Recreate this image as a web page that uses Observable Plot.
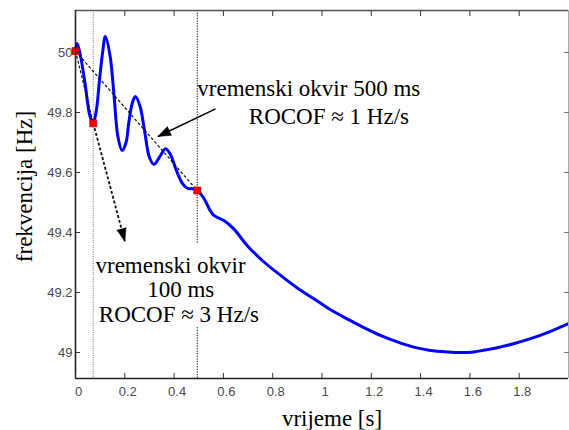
<!DOCTYPE html>
<html><head><meta charset="utf-8">
<script src="https://cdn.jsdelivr.net/npm/d3@7"></script>
<script src="https://cdn.jsdelivr.net/npm/@observablehq/plot@0.6"></script>
<style>body{margin:0;background:#fff} svg{display:block}</style>
</head><body><div id="chart"></div>
<script>
// ---- data ----
const time = [0, 0.007, 0.02, 0.04, 0.058, 0.072, 0.085, 0.0975, 0.11, 0.121, 0.14, 0.156, 0.172, 0.189,
  0.205, 0.216, 0.23, 0.243, 0.262, 0.28, 0.3, 0.318, 0.34, 0.365, 0.385, 0.41, 0.435, 0.455, 0.475, 0.494,
  0.52, 0.545, 0.561, 0.602, 0.642, 0.696, 0.76, 0.832, 0.9, 0.967, 1.03, 1.102, 1.17, 1.237, 1.3, 1.372,
  1.44, 1.508, 1.56, 1.616, 1.66, 1.711, 1.78, 1.846, 1.92, 2.0];
const freq = [50.005, 50.03, 49.99, 49.89, 49.79, 49.765, 49.81, 49.91, 50.0, 50.053, 49.99, 49.86, 49.72, 49.673,
  49.7, 49.765, 49.83, 49.853, 49.82, 49.74, 49.65, 49.627, 49.65, 49.679, 49.66, 49.605, 49.562, 49.547, 49.546, 49.54,
  49.515, 49.475, 49.457, 49.44, 49.412, 49.357, 49.305, 49.257, 49.215, 49.179, 49.145, 49.112, 49.083, 49.057, 49.037, 49.018,
  49.007, 49.002, 49.0, 49.002, 49.008, 49.016, 49.03, 49.046, 49.068, 49.096];

const markerT = [0, 0.072, 0.494];
const markerF = [50.005, 49.764, 49.54];

const xTicks = [0, 0.2, 0.4, 0.6, 0.8, 1, 1.2, 1.4, 1.6, 1.8];
const yTicks = [49, 49.2, 49.4, 49.6, 49.8, 50];
const xDomain = [0, 2];
const yDomain = [48.9133, 50.14];

// window lines: short window full height, long window broken behind the lower text
const shortWindowT = [0.072];
const longWindowT = [0.494, 0.494];
const longWindowY1 = [50.14, 49.083];
const longWindowY2 = [49.363, 48.9133];

// dashed secant lines
const secantX1 = [0, 0];
const secantY1 = [50.005, 50.005];
const secantX2 = [0.072, 0.494];
const secantY2 = [49.764, 49.54];

// arrows: [start t, start f, tip t, tip f]
const arrowSolid = [0.568, 49.812, 0.334, 49.72];
const arrowDashed = [0.072, 49.764, 0.2, 49.371];

// annotation text
const labelText = ["vremenski okvir 500 ms", "ROCOF \u2248 1 Hz/s", "vremenski okvir", "100 ms", "ROCOF \u2248 3 Hz/s"];
const labelT = [0.494, 0.703, 0.081, 0.291, 0.0945];
const labelF = [49.881, 49.787, 49.289, 49.211, 49.126];

const xLabel = "vrijeme [s]";
const yLabel = "frekvencija [Hz]";

// ---- layout ----
const W = 569, H = 430, mL = 75, mR = 1, mT = 10, mB = 52;
const sx = d3.scaleLinear(xDomain, [mL, W - mR]);
const sy = d3.scaleLinear(yDomain, [H - mB, mT]);
function angle(a) {
  const dx = sx(a[2]) - sx(a[0]), dy = sy(a[3]) - sy(a[1]);
  return Math.atan2(dx, -dy) * 180 / Math.PI;
}

const series = time.map((t, i) => ({t, f: freq[i]}));
const markers = markerT.map((t, i) => ({t, f: markerF[i]}));
const secants = secantX1.map((x1, i) => ({x1, y1: secantY1[i], x2: secantX2[i], y2: secantY2[i]}));
const longWin = longWindowT.map((t, i) => ({t, y1: longWindowY1[i], y2: longWindowY2[i]}));
const labels = labelText.map((s, i) => ({s, t: labelT[i], f: labelF[i]}));
const arrows = [arrowSolid, arrowDashed].map(a => ({x1: a[0], y1: a[1], x2: a[2], y2: a[3], rot: angle(a)}));

const serif = "Liberation Serif, Times New Roman, serif";
const sans = "Liberation Sans, Arial, sans-serif";

const plot = Plot.plot({
  width: W, height: H,
  marginLeft: mL, marginRight: mR, marginTop: mT, marginBottom: mB,
  style: {fontFamily: sans, fontSize: "13px", background: "#fff"},
  x: {domain: xDomain, label: null},
  y: {domain: yDomain, label: null},
  marks: [
    // window lines
    Plot.ruleX(shortWindowT, {x: d => d, stroke: "#777", strokeWidth: 1, strokeDasharray: "1,1.3"}),
    Plot.ruleX(longWin, {x: "t", y1: "y1", y2: "y2", stroke: "#111", strokeWidth: 1, strokeDasharray: "1.3,1.3"}),
    // frequency curve
    Plot.line(series, {x: "t", y: "f", stroke: "#0000ff", strokeWidth: 3, curve: "catmull-rom"}),
    // secants
    Plot.link(secants, {x1: "x1", y1: "y1", x2: "x2", y2: "y2", stroke: "#111", strokeWidth: 1.2, strokeDasharray: "3,2"}),
    // arrows
    Plot.link([arrows[0]], {x1: "x1", y1: "y1", x2: "x2", y2: "y2", stroke: "#000", strokeWidth: 1.5}),
    Plot.link([arrows[1]], {x1: "x1", y1: "y1", x2: "x2", y2: "y2", stroke: "#111", strokeWidth: 1.8, strokeDasharray: "3,2"}),
    Plot.vector(arrows, {x: "x2", y: "y2", rotate: "rot", length: 13, r: 4.8, shape: "spike", anchor: "end",
      fill: "#000", stroke: "#000", strokeWidth: 0.5}),
    // markers
    Plot.dot(markers, {x: "t", y: "f", symbol: "square", r: 4, fill: "#ff0000", stroke: "#8a0000", strokeWidth: 0.6}),
    // annotations
    Plot.text(labels, {x: "t", y: "f", text: "s", textAnchor: "start", lineAnchor: "middle", fontFamily: serif, fontSize: 23, fill: "#000"}),
    // frame
    Plot.ruleY([yDomain[1]], {stroke: "#555", strokeWidth: 1.4}),
    Plot.ruleX([xDomain[1]], {stroke: "#aaa", strokeWidth: 1}),
    Plot.ruleX([xDomain[0]], {stroke: "#222", strokeWidth: 1.6}),
    Plot.ruleY([yDomain[0]], {stroke: "#222", strokeWidth: 1.6}),
    // inward ticks
    Plot.axisY(yTicks, {anchor: "left", tickSize: 5, dx: 5, tickFormat: () => "", label: null, stroke: "#333"}),
    Plot.axisY(yTicks, {anchor: "right", tickSize: 5, dx: -5, tickFormat: () => "", label: null, stroke: "#777"}),
    Plot.axisX(xTicks, {anchor: "bottom", tickSize: 5, dy: -5, tickFormat: () => "", label: null, stroke: "#333"}),
    Plot.axisX(xTicks, {anchor: "top", tickSize: 5, dy: 5, tickFormat: () => "", label: null, stroke: "#333"}),
    // tick labels
    Plot.axisY(yTicks, {anchor: "left", tickSize: 0, tickPadding: 3, tickFormat: d => String(d), label: null, fill: "#4a4a4a", fontSize: 13}),
    Plot.axisX(xTicks, {anchor: "bottom", tickSize: 0, tickPadding: 8, dx: 3, tickFormat: d => String(d), label: null, fill: "#4a4a4a", fontSize: 13}),
    // axis titles
    Plot.text([yLabel], {frameAnchor: "left", text: d => d, rotate: -90, dx: -51, dy: -8, textAnchor: "middle", lineAnchor: "middle", fontFamily: serif, fontSize: 23, fill: "#000"}),
    Plot.text([xLabel], {frameAnchor: "bottom", text: d => d, dx: 10, dy: 40.5, textAnchor: "middle", lineAnchor: "middle", fontFamily: serif, fontSize: 23, fill: "#000"})
  ]
});
document.getElementById("chart").appendChild(plot);
</script>
</body></html>
